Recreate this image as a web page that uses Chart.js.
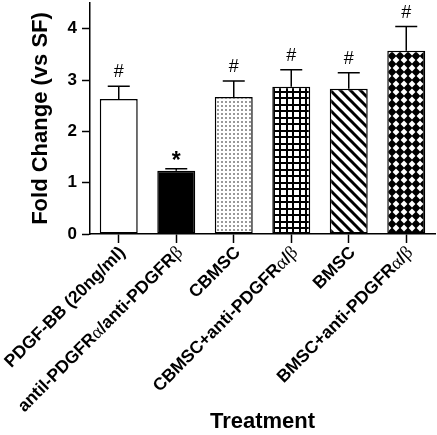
<!DOCTYPE html>
<html>
<head>
<meta charset="utf-8">
<script src="https://cdn.jsdelivr.net/npm/chart.js@4.4.1/dist/chart.umd.min.js"></script>
<style>
  html, body { margin: 0; padding: 0; background: #fff; }
  #wrap { width: 437px; height: 435px; }
</style>
</head>
<body>
<div id="wrap"><canvas id="myChart" width="437" height="435"></canvas></div>
<script>
// data
const categories = [
  "PDGF-BB (20ng/ml)",
  "antil-PDGFRα/anti-PDGFRβ",
  "CBMSC",
  "CBMSC+anti-PDGFRα/β",
  "BMSC",
  "BMSC+anti-PDGFRα/β"
];
const means = [2.63, 1.23, 2.67, 2.87, 2.83, 3.57];
const errors = [0.25, 0.04, 0.31, 0.33, 0.31, 0.47];
const marks = ["#", "*", "#", "#", "#", "#"];
const yTicks = [0, 1, 2, 3, 4];

const FONT = "'Liberation Sans', Arial, sans-serif";

// fill patterns for the bars
function makeTile(w, h, draw) {
  const c = document.createElement("canvas");
  c.width = w;
  c.height = h;
  const g = c.getContext("2d");
  draw(g, w, h);
  return document.createElement("canvas").getContext("2d").createPattern(c, "repeat");
}

const stipple = makeTile(4, 4, (g) => {
  g.fillStyle = "#fff"; g.fillRect(0, 0, 4, 4);
  g.fillStyle = "#999"; g.fillRect(1, 1, 2, 2);
});
const gridPat = makeTile(13, 13, (g) => {
  g.fillStyle = "#fff"; g.fillRect(0, 0, 13, 13);
  g.fillStyle = "#000";
  g.fillRect(0, 0, 2, 13); g.fillRect(6, 0, 2, 13);
  g.fillRect(0, 0, 13, 2); g.fillRect(0, 6, 13, 2);
});
const stripes = makeTile(10, 10, (g) => {
  g.fillStyle = "#fff"; g.fillRect(0, 0, 10, 10);
  g.strokeStyle = "#000"; g.lineWidth = 3;
  for (let k = -1; k <= 1; k++) {
    g.beginPath();
    g.moveTo(k * 10 - 2, -2);
    g.lineTo(k * 10 + 12, 12);
    g.stroke();
  }
});
const diamonds = makeTile(8, 8, (g) => {
  g.fillStyle = "#000"; g.fillRect(0, 0, 8, 8);
  g.fillStyle = "#fff";
  g.beginPath();
  g.moveTo(4, 0.6); g.lineTo(7.4, 4); g.lineTo(4, 7.4); g.lineTo(0.6, 4);
  g.closePath(); g.fill();
});
const fills = ["#fff", "#000", stipple, gridPat, stripes, diamonds];

// error bars (upper whisker only) and significance marks
const errorBars = {
  id: "errorBars",
  afterDatasetsDraw(chart) {
    const ctx = chart.ctx;
    const x = chart.scales.x, y = chart.scales.y;
    ctx.save();
    ctx.strokeStyle = "#000";
    ctx.lineWidth = 1.5;
    ctx.fillStyle = "#000";
    ctx.textAlign = "center";
    ctx.textBaseline = "alphabetic";
    for (let i = 0; i < means.length; i++) {
      const px = x.getPixelForValue(i);
      const top = y.getPixelForValue(means[i] + errors[i]);
      const base = y.getPixelForValue(means[i]);
      ctx.beginPath();
      ctx.moveTo(px, base);
      ctx.lineTo(px, top);
      ctx.moveTo(px - 11, top);
      ctx.lineTo(px + 11, top);
      ctx.stroke();
      if (marks[i] === "*") {
        ctx.font = "bold 23px " + FONT;
        ctx.fillText(marks[i], px, top - 1);
      } else {
        ctx.font = "18px " + FONT;
        ctx.fillText(marks[i], px, top - 9);
      }
    }
    ctx.restore();
  }
};

// rotated category labels, greek letters in a plain serif face
const xLabels = {
  id: "xLabels",
  afterDraw(chart) {
    const ctx = chart.ctx;
    const x = chart.scales.x;
    const latin = "bold 17.5px " + FONT;
    const greek = "18.5px 'Liberation Serif', serif";
    ctx.save();
    ctx.fillStyle = "#000";
    ctx.textBaseline = "middle";
    ctx.textAlign = "left";
    categories.forEach((label, i) => {
      const runs = label.split(/([αβ])/).filter((s) => s);
      const f = runs.map((r) => (/[αβ]/.test(r) ? greek : latin));
      const w = runs.map((r, j) => { ctx.font = f[j]; return ctx.measureText(r).width; });
      let cx = -w.reduce((a, b) => a + b, 0);
      ctx.save();
      ctx.translate(x.getPixelForValue(i) + 4, x.top + 16);
      ctx.rotate(-Math.PI / 4);
      runs.forEach((r, j) => {
        ctx.font = f[j];
        ctx.fillText(r, cx, 0);
        cx += w[j];
      });
      ctx.restore();
    });
    ctx.restore();
  }
};

const data = {
  labels: categories,
  datasets: [
    {
      data: means,
      backgroundColor: fills,
      borderColor: "#000",
      borderWidth: 1.5,
      borderSkipped: false,
      barPercentage: 0.66,
      categoryPercentage: 1
    }
  ]
};

const config = {
  type: "bar",
  data: data,
  options: {
    responsive: false,
    animation: false,
    layout: { padding: { top: 3, right: 2, left: 0, bottom: 0 } },
    plugins: {
      legend: { display: false },
      tooltip: { enabled: false }
    },
    scales: {
      x: {
        offset: true,
        grid: {
          offset: false,
          drawOnChartArea: false,
          tickLength: 9,
          tickColor: "#000",
          tickWidth: 1.5
        },
        border: { color: "#000", width: 1.5 },
        ticks: { display: false },
        title: {
          display: true,
          text: "Treatment",
          color: "#000",
          font: { family: FONT, size: 22, weight: "bold" },
          padding: { top: 0, bottom: 0 }
        },
        afterFit(s) {
          s.height = 201;
          s.paddingLeft = 0;
          s.paddingRight = 0;
        }
      },
      y: {
        min: 0,
        max: 4.5,
        afterBuildTicks(s) { s.ticks = yTicks.map((v) => ({ value: v })); },
        ticks: {
          color: "#000",
          padding: 5,
          font: { family: FONT, size: 17, weight: "bold" }
        },
        grid: {
          drawOnChartArea: false,
          tickLength: 8,
          tickColor: "#000",
          tickWidth: 1.5
        },
        border: { color: "#000", width: 1.5 },
        title: {
          display: true,
          text: "Fold Change (vs SF)",
          color: "#000",
          font: { family: FONT, size: 22, weight: "bold" },
          padding: { top: 28, bottom: 0 }
        },
        afterFit(s) {
          s.width = 90;
          s.paddingTop = 0;
          s.paddingBottom = 0;
        }
      }
    }
  },
  plugins: [errorBars, xLabels]
};

const myChart = new Chart(document.getElementById("myChart"), config);
</script>
</body>
</html>
